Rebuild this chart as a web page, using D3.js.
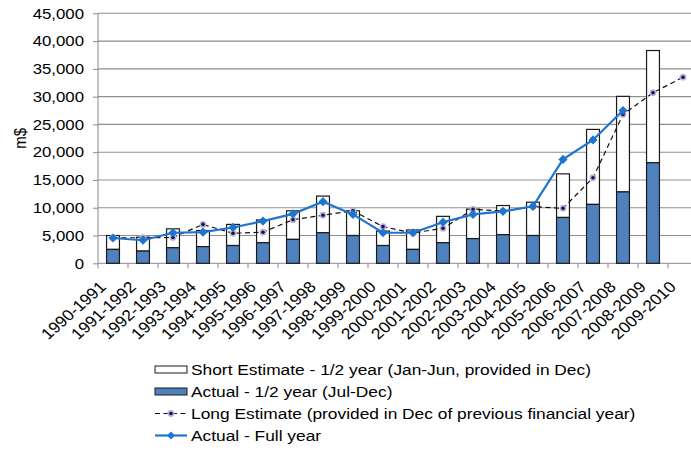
<!DOCTYPE html>
<html>
<head>
<meta charset="utf-8">
<script src="https://cdn.jsdelivr.net/npm/d3@7"></script>
<style>
  html, body { margin: 0; padding: 0; background: #fff; }
  svg { display: block; }
  text { font-family: "Liberation Sans", Arial, Helvetica, sans-serif; fill: #000; }
</style>
</head>
<body>
<svg id="chart" width="691" height="452"></svg>
<script>
// ---- data ----
const categories = ["1990-1991","1991-1992","1992-1993","1993-1994","1994-1995","1995-1996","1996-1997","1997-1998","1998-1999","1999-2000","2000-2001","2001-2002","2002-2003","2003-2004","2004-2005","2005-2006","2006-2007","2007-2008","2008-2009","2009-2010"];
// Actual - 1/2 year (Jul-Dec)
const actualHalf = [2500, 2200, 2800, 3000, 3200, 3700, 4300, 5500, 5000, 3200, 2500, 3700, 4450, 5150, 5000, 8250, 10600, 12850, 18100, null];
// Short Estimate - 1/2 year (Jan-Jun), stacked on top of actualHalf
const shortEstimate = [2500, 2500, 3400, 2900, 3800, 4100, 5150, 6600, 4450, 2600, 3500, 4750, 5300, 5250, 6000, 7850, 13500, 17200, 20200, null];
// Long Estimate (provided in Dec of previous financial year)
const longEstimate = [4600, 4600, 4650, 7000, 5400, 5600, 7850, 8650, 9450, 6600, 5450, 6300, 9700, 9400, 10200, 9900, 15400, 26800, 30700, 33500];
// Actual - Full year
const actualFull = [4550, 4150, 5500, 5600, 6450, 7600, 8900, 11100, 8800, 5500, 5500, 7400, 8800, 9350, 10250, 18700, 22200, 27500, null, null];
const yTicks = [0, 5000, 10000, 15000, 20000, 25000, 30000, 35000, 40000, 45000];
const legendLabels = [
  "Short Estimate - 1/2 year (Jan-Jun, provided in Dec)",
  "Actual - 1/2 year (Jul-Dec)",
  "Long Estimate (provided in Dec of previous financial year)",
  "Actual - Full year"
];

// ---- layout ----
const SX = 1.12;            // horizontal stretch of the reference text
const plotL = 98, plotR = 698, plotT = 13.3, plotB = 263.3, clipR = 691;
const blue = "#4f81bd", lineBlue = "#1f74cf";
const fmt = d3.format(",");

const svg = d3.select("#chart");
const x = d3.scaleBand().domain(categories).range([plotL, plotR]).padding(0);
const y = d3.scaleLinear().domain([0, 45000]).range([plotB, plotT]);
const barW = x.bandwidth() * 0.43;
const cx = c => x(c) + x.bandwidth() / 2;

// gridlines
svg.append("g").selectAll("line").data(yTicks.filter(t => t > 0)).join("line")
  .attr("x1", plotL).attr("x2", clipR)
  .attr("y1", d => y(d)).attr("y2", d => y(d))
  .attr("stroke", "#8f8f8f").attr("stroke-width", 1.1);

// y axis
const yAxis = d3.axisLeft(y).tickValues(yTicks).tickSize(5).tickFormat(() => "");
const gy = svg.append("g").attr("transform", `translate(${plotL},0)`).call(yAxis);
gy.select(".domain").attr("stroke", "#8a8a8a").attr("d", `M0,${plotB}V${plotT}`);
gy.selectAll(".tick line").attr("stroke", "#8a8a8a");
svg.append("g").selectAll("text").data(yTicks).join("text")
  .attr("transform", d => `translate(84,${y(d)}) scale(${SX},1)`)
  .attr("dy", "0.35em").attr("text-anchor", "end")
  .style("font-size", "15px").text(d => fmt(d));

// y title
svg.append("text")
  .attr("transform", `translate(26,${(plotT + plotB) / 2}) scale(${SX},1) rotate(-90)`)
  .attr("text-anchor", "middle").style("font-size", "15px").text("m$");

// x axis
const xAxis = d3.axisBottom(x).tickSize(0).tickFormat(() => "");
const gx = svg.append("g").attr("transform", `translate(0,${plotB})`).call(xAxis);
gx.select(".domain").attr("stroke", "#8a8a8a").attr("d", `M${plotL},0H${clipR}`);
svg.append("g").selectAll("line").data(categories).join("line")
  .attr("x1", d => x(d)).attr("x2", d => x(d))
  .attr("y1", plotB).attr("y2", plotB + 5)
  .attr("stroke", "#8a8a8a");
svg.append("g").selectAll("text").data(categories).join("text")
  .attr("transform", d => `translate(${cx(d) - 6},${288}) scale(${SX},1) rotate(-45)`)
  .attr("text-anchor", "end").style("font-size", "15.5px").text(d => d);

// bars
const barData = categories.map((c, i) => ({ c, a: actualHalf[i], s: shortEstimate[i] })).filter(d => d.a != null);
svg.append("g").selectAll("rect").data(barData).join("rect")
  .attr("x", d => cx(d.c) - barW / 2).attr("width", barW)
  .attr("y", d => y(d.a + d.s)).attr("height", d => y(d.a) - y(d.a + d.s))
  .attr("fill", "#fff").attr("stroke", "#1a1a1a").attr("stroke-width", 1.2);
svg.append("g").selectAll("rect").data(barData).join("rect")
  .attr("x", d => cx(d.c) - barW / 2).attr("width", barW)
  .attr("y", d => y(d.a)).attr("height", d => y(0) - y(d.a))
  .attr("fill", blue).attr("stroke", "#1a1a1a").attr("stroke-width", 1.2);

// long estimate line
const longPts = categories.map((c, i) => ({ c, v: longEstimate[i] })).filter(d => d.v != null);
const line = d3.line().x(d => cx(d.c)).y(d => y(d.v));
svg.append("path").datum(longPts).attr("d", line)
  .attr("fill", "none").attr("stroke", "#111").attr("stroke-width", 1.2).attr("stroke-dasharray", "5,3.5");
const gl = svg.append("g").selectAll("g").data(longPts).join("g")
  .attr("transform", d => `translate(${cx(d.c)},${y(d.v)})`);
gl.append("circle").attr("r", 3.4).attr("fill", "#b8b4e0");
gl.append("circle").attr("r", 1.8).attr("fill", "#14143c");

// actual full-year line
const fullPts = categories.map((c, i) => ({ c, v: actualFull[i] })).filter(d => d.v != null);
svg.append("path").datum(fullPts).attr("d", line)
  .attr("fill", "none").attr("stroke", lineBlue).attr("stroke-width", 2.2);
svg.append("g").selectAll("path").data(fullPts).join("path")
  .attr("transform", d => `translate(${cx(d.c)},${y(d.v)})`)
  .attr("d", "M0,-4.6L4.6,0L0,4.6L-4.6,0Z").attr("fill", lineBlue);

// legend
const lg = svg.append("g");
const rowY = [369.5, 391.5, 413.5, 435.5];
const sx0 = 155, sx1 = 187, tx = 191;
lg.append("rect").attr("x", sx0).attr("y", rowY[0] - 3.5).attr("width", sx1 - sx0).attr("height", 7)
  .attr("fill", "#fff").attr("stroke", "#1a1a1a").attr("stroke-width", 1);
lg.append("rect").attr("x", sx0).attr("y", rowY[1] - 3.5).attr("width", sx1 - sx0).attr("height", 7)
  .attr("fill", blue).attr("stroke", "#1a1a1a").attr("stroke-width", 1);
lg.append("line").attr("x1", sx0).attr("x2", sx1).attr("y1", rowY[2]).attr("y2", rowY[2])
  .attr("stroke", "#111").attr("stroke-width", 1.2).attr("stroke-dasharray", "5,3.5");
lg.append("circle").attr("cx", (sx0 + sx1) / 2).attr("cy", rowY[2]).attr("r", 3.4).attr("fill", "#b8b4e0");
lg.append("circle").attr("cx", (sx0 + sx1) / 2).attr("cy", rowY[2]).attr("r", 1.8).attr("fill", "#14143c");
lg.append("line").attr("x1", sx0).attr("x2", sx1).attr("y1", rowY[3]).attr("y2", rowY[3])
  .attr("stroke", lineBlue).attr("stroke-width", 2.2);
lg.append("path").attr("transform", `translate(${(sx0 + sx1) / 2},${rowY[3]})`)
  .attr("d", "M0,-4L4,0L0,4L-4,0Z").attr("fill", lineBlue);
lg.selectAll("text").data(legendLabels).join("text")
  .attr("transform", (d, i) => `translate(${tx},${rowY[i]}) scale(${SX},1)`)
  .attr("dy", "0.35em").style("font-size", "15.5px").text(d => d);
</script>
</body>
</html>
